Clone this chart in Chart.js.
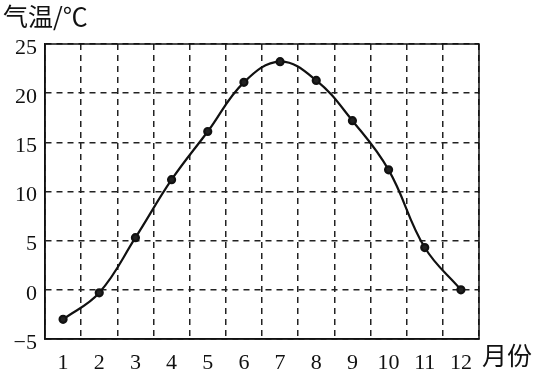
<!DOCTYPE html>
<html>
<head>
<meta charset="utf-8">
<script src="https://cdn.jsdelivr.net/npm/chart.js@4"></script>
<style>
html,body{margin:0;padding:0;background:#fff;}
#wrap{width:534px;height:373px;position:relative;}
</style>
</head>
<body>
<div id="wrap"><canvas id="c" width="534" height="373"></canvas></div>
<script>
const months = ["1","2","3","4","5","6","7","8","9","10","11","12"];
const temperatures = [-3, -0.3, 5.3, 11.2, 16.1, 21.1, 23.2, 21.3, 17.2, 12.2, 4.3, 0];
const yTitle = "气温/℃";
const xTitle = "月份";
const yMin = -5, yMax = 25, yStep = 5;

const framePlugin = {
  id: 'frame',
  afterDraw(chart) {
    const ctx = chart.ctx, a = chart.chartArea;
    ctx.save();
    ctx.strokeStyle = '#111';
    ctx.lineWidth = 1.5;
    ctx.setLineDash([]);
    ctx.strokeRect(a.left, a.top, a.right - a.left, a.bottom - a.top);
    ctx.fillStyle = '#111';
    ctx.font = '25px "Noto Sans CJK SC"';
    ctx.textBaseline = 'alphabetic';
    ctx.textAlign = 'left';
    ctx.fillText(yTitle, 3, 26);
    ctx.fillText(xTitle, a.right + 3, a.bottom + 26);
    ctx.restore();
  }
};

new Chart(document.getElementById('c'), {
  type: 'line',
  data: {
    labels: months,
    datasets: [{
      data: temperatures,
      borderColor: '#111',
      backgroundColor: '#111',
      borderWidth: 2.2,
      pointRadius: 3.5,
      pointBackgroundColor: '#222',
      pointBorderColor: '#111',
      tension: 0.4,
      fill: false
    }]
  },
  options: {
    responsive: false,
    animation: false,
    events: [],
    layout: { padding: { top: 44, right: 55, left: 0, bottom: 0 } },
    plugins: { legend: { display: false }, tooltip: { enabled: false } },
    scales: {
      x: {
        type: 'category',
        offset: true,
        afterFit(s) { s.height = 34; },
        grid: { offset: true, color: '#222', lineWidth: 1.5, drawTicks: false },
        border: { display: true, color: '#111', width: 1.5, dash: [6, 5] },
        ticks: { color: '#111', font: { family: 'Liberation Serif', size: 22 }, padding: 11, maxRotation: 0, autoSkip: false }
      },
      y: {
        min: yMin, max: yMax,
        afterFit(s) { s.width = 45; },
        grid: { color: '#222', lineWidth: 1.5, drawTicks: false },
        border: { display: true, color: '#111', width: 1.5, dash: [6, 5] },
        ticks: {
          stepSize: yStep, color: '#111', padding: 8, labelOffset: 4,
          font: { family: 'Liberation Serif', size: 22 },
          callback: v => (v < 0 ? '\u2212' + Math.abs(v) : String(v))
        }
      }
    }
  },
  plugins: [framePlugin]
});
</script>
</body>
</html>
